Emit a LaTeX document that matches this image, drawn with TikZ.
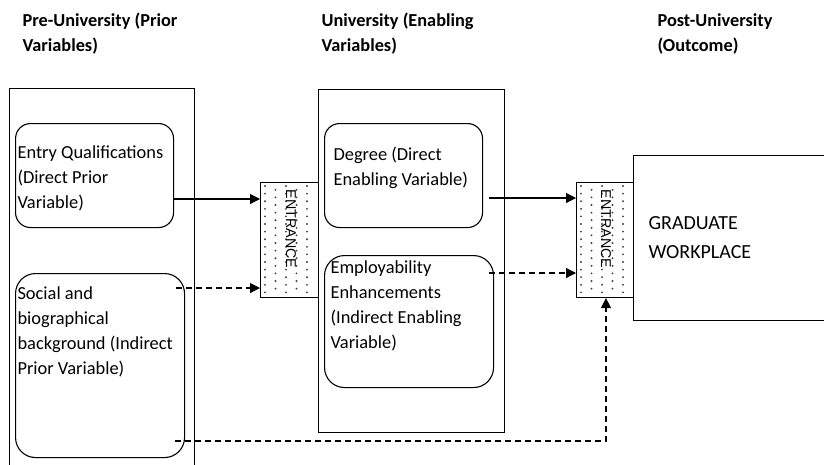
\documentclass[tikz,border=0pt]{standalone}
\usepackage{fontspec}
\setmainfont{Carlito}
\newfontfamily\gatefont{Liberation Sans}
\usetikzlibrary{arrows.meta,calc}

\begin{document}
\begin{tikzpicture}[x=1pt,y=-1pt,
  line width=1.1pt,
  panel/.style={draw, anchor=north west, inner sep=0pt},
  varbox/.style={draw, anchor=north west, inner sep=0pt, rounded corners=15pt},
  bigvarbox/.style={varbox, rounded corners=20pt},
  gatebox/.style={draw, anchor=north west, inner sep=0pt},
  gatelabel/.style={rotate=-90, inner sep=0pt, font=\gatefont\fontsize{14.2}{16}\selectfont},
  % multi-line texts are placed by the baseline of their last line
  heading/.style={anchor=base west, align=left, inner sep=0pt,
    font=\bfseries\fontsize{18.3}{25}\selectfont},
  body/.style={anchor=base west, align=left, inner sep=0pt,
    font=\fontsize{18.4}{25}\selectfont},
  solidlink/.style={-{Triangle[length=10pt,width=10pt]}},
  dashlink/.style={-{Triangle[length=10pt,width=10pt]}, dash pattern=on 6pt off 4pt},
  dot/.style={fill=black!75, draw=none}
]
\useasboundingbox (0,0) rectangle (824,464);
\clip (0,0) rectangle (824,464);

% column headings
\node[heading] (hpre) at (22,51) {Pre-University (Prior\\Variables)};
\node[heading] (huni) at (321,51) {University (Enabling\\Variables)};
\node[heading] (hpost) at (657,51) {Post-University\\(Outcome)};

% column frames
\node[panel, minimum width=185pt, minimum height=400pt] (pre) at (9,88) {};
\node[panel, minimum width=186pt, minimum height=343pt] (uni) at (318,89) {};
\node[panel, minimum width=210pt, minimum height=165pt] (work) at (633,155) {};

% variable boxes
\node[varbox, minimum width=158pt, minimum height=104pt] (entry) at (15,123) {};
\node[bigvarbox, minimum width=169pt, minimum height=184pt] (social) at (15,273) {};
\node[varbox, minimum width=158pt, minimum height=104pt] (degree) at (324,123) {};
\node[bigvarbox, minimum width=169pt, minimum height=132pt] (employ) at (324,255) {};

% box texts
\node[body] (tentry) at (17,208) {Entry Qualifications\\(Direct Prior\\Variable)};
\node[body] (tsocial) at (17,374) {Social and\\biographical\\background (Indirect\\Prior Variable)};
\node[body] (tdegree) at (333,185) {Degree (Direct\\Enabling Variable)};
\node[body] (temploy) at (330,348) {Employability\\Enhancements\\(Indirect Enabling\\Variable)};
\node[anchor=base west, align=left, inner sep=0pt, font=\fontsize{20}{29}\selectfont]
  (twork) at (648,258) {GRADUATE\\WORKPLACE};

% entrance gates with dotted fill
\node[gatebox, minimum width=58pt, minimum height=115pt] (gateA) at (260,182) {};
\node[gatebox, minimum width=57pt, minimum height=115pt] (gateB) at (576,182) {};
\foreach \gx in {265,581}{
  \foreach \i in {0,...,4}{
    \foreach \j in {0,...,14}{
      \pgfmathsetmacro{\dx}{\gx+10.5*\i}
      \pgfmathsetmacro{\dy}{186+7.6*\j+3.8*mod(\i,2)}
      \ifdim\dy pt<295pt
        \fill[dot] (\dx,\dy) circle (1.05pt);
      \fi
    }
  }
}
\node[gatelabel] (labA) at (291,229) {ENTRANCE};
\node[gatelabel] (labB) at (606,229) {ENTRANCE};

% connectors
\draw[solidlink] (entry.east |- 0,199) -- (gateA.west |- 0,199);
\draw[dashlink] ($(social.east |- 0,288)+(-9,0)$) -- (gateA.west |- 0,288);
\draw[solidlink] ($(degree.east |- 0,198)+(6,0)$) -- (gateB.west |- 0,198);
\draw[dashlink] ($(employ.east |- 0,273)+(-5,0)$) -- (gateB.west |- 0,273);
\draw[dashlink] ($(social.east |- 0,441)+(-10,0)$) -- (606,441) coordinate (turn) -- (turn |- gateB.south);
\end{tikzpicture}
\end{document}
